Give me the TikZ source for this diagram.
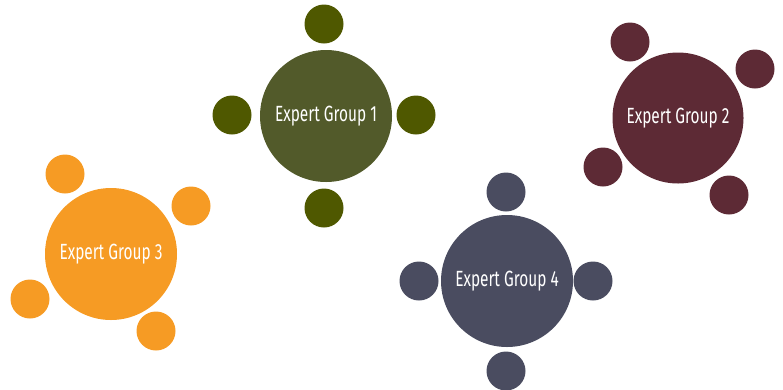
\documentclass[tikz,border=0pt]{standalone}
\usepackage{fontspec}
\setmainfont[FakeStretch=0.7]{Fira Sans}
\definecolor{cGreen}{HTML}{525A2A}
\definecolor{cGreenS}{HTML}{4F5800}
\definecolor{cMaroon}{HTML}{5D2A35}
\definecolor{cOrange}{HTML}{F69B24}
\definecolor{cSlate}{HTML}{4A4C60}
\tikzset{
  big/.style={circle, inner sep=0pt, minimum size=132pt, text=white, font=\fontsize{22}{24}\selectfont},
  sat/.style={circle, inner sep=0pt, minimum size=39pt}
}
\begin{document}
\begin{tikzpicture}[x=1pt,y=-1pt]
\useasboundingbox (0,0) rectangle (783,389);
% Group 1
\node[big, fill=cGreen] (g1) at (326,116) {Expert Group 1};
\node[sat, fill=cGreenS] (g1t) at (324,24) {};
\node[sat, fill=cGreenS] (g1l) at (232,115) {};
\node[sat, fill=cGreenS] (g1r) at (416,115) {};
\node[sat, fill=cGreenS] (g1b) at (324,208) {};
% Group 2
\node[big, fill=cMaroon, minimum size=131pt] (g2) at (678,118) {Expert Group 2};
\node[sat, fill=cMaroon] (g2a) at (630,42) {};
\node[sat, fill=cMaroon] (g2b) at (755,69) {};
\node[sat, fill=cMaroon] (g2c) at (603,167) {};
\node[sat, fill=cMaroon] (g2d) at (729,195) {};
% Group 3
\node[big, fill=cOrange] (g3) at (111,254) {Expert Group 3};
\node[sat, fill=cOrange] (g3a) at (65,174) {};
\node[sat, fill=cOrange] (g3b) at (191,206) {};
\node[sat, fill=cOrange] (g3c) at (30,299) {};
\node[sat, fill=cOrange] (g3d) at (156,331) {};
% Group 4
\node[big, fill=cSlate] (g4) at (507,281) {Expert Group 4};
\node[sat, fill=cSlate] (g4t) at (506,192) {};
\node[sat, fill=cSlate] (g4l) at (419,281) {};
\node[sat, fill=cSlate] (g4r) at (593,281) {};
\node[sat, fill=cSlate] (g4b) at (506,371) {};
\end{tikzpicture}
\end{document}
